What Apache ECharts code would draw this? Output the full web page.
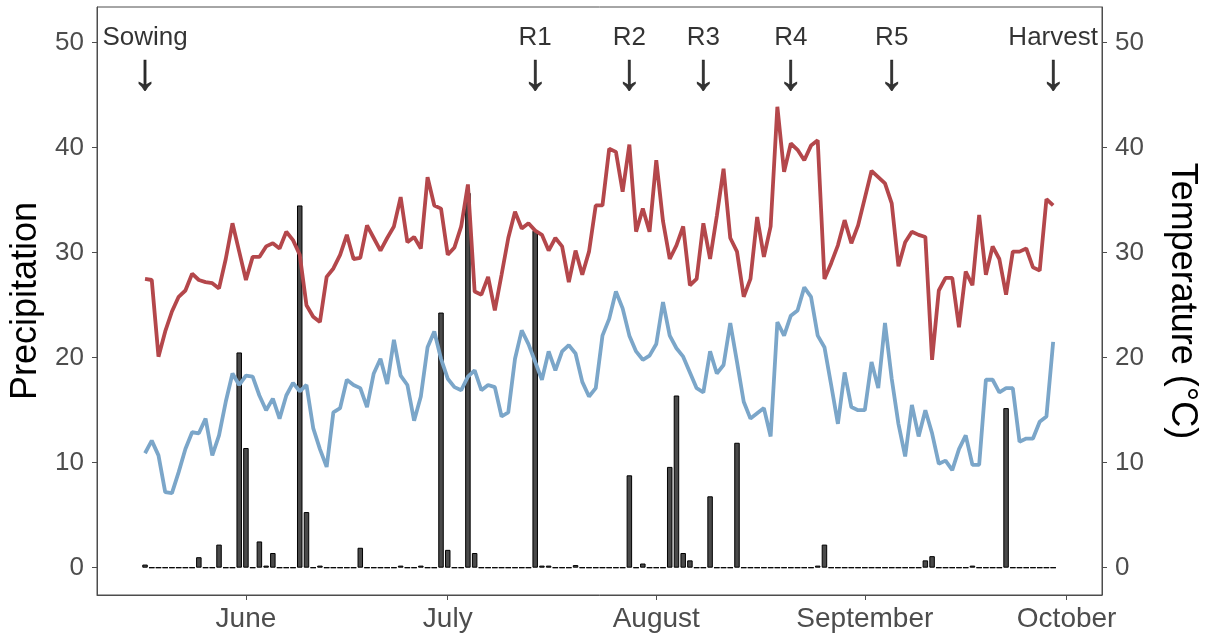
<!DOCTYPE html>
<html><head><meta charset="utf-8">
<script src="https://cdn.jsdelivr.net/npm/echarts@6/dist/echarts.min.js"></script>
<style>html,body{margin:0;padding:0;background:#fff}#c{width:1210px;height:637px}</style>
</head><body><div id="c"></div>
<script>
// ---- data (daily, starting at sowing date) ----
const startYear = 2019, startMonth = 4, startDay = 17; // 17 May
const precipitation = [
  0.3,0,0,0,0,0,0,0,1.0,0,
  0,2.2,0,0,20.5,11.4,0,2.5,0.2,1.4,
  0,0,0,34.5,5.3,0,0.2,0,0,0,
  0,0,1.9,0,0,0,0,0,0.2,0,
  0,0.2,0,0,24.3,1.7,0,0,35.7,1.4,
  0,0,0,0,0,0,0,0,32.1,0.2,
  0.2,0,0,0,0.25,0,0,0,0,0,
  0,0,8.8,0,0.4,0,0,0,9.6,16.4,
  1.4,0.7,0,0,6.8,0,0,0,11.9,0,
  0,0,0,0,0,0,0,0,0,0,
  0.2,2.2,0,0,0,0,0,0,0,0,
  0,0,0,0,0,0,0.7,1.1,0,0,
  0,0,0,0.2,0,0,0,0,15.2,0,
  0,0,0,0,0,0
];
const maxTemp = [
  27.5,27.4,20.1,22.5,24.4,25.8,26.4,28.0,27.4,27.2,
  27.1,26.6,29.4,32.8,30.1,27.4,29.6,29.6,30.6,30.9,
  30.4,32.0,31.2,29.8,25.0,23.9,23.4,27.7,28.5,29.8,
  31.7,29.4,29.5,32.6,31.4,30.2,31.4,32.5,35.3,31.0,
  31.5,30.4,37.2,34.5,34.2,29.8,30.5,32.5,36.5,26.3,
  26.0,27.7,24.5,27.9,31.4,33.9,32.3,32.8,32.1,31.7,
  30.2,31.4,30.6,27.2,30.2,27.9,30.1,34.5,34.5,39.9,
  39.6,35.8,40.3,32.0,34.2,32.0,38.8,33.0,29.4,30.7,
  32.5,26.9,27.5,32.8,29.4,33.5,38.0,31.4,30.1,25.8,
  27.5,33.4,29.6,32.5,43.9,37.7,40.4,39.8,38.8,40.2,
  40.7,27.5,29.0,30.7,33.1,30.9,32.6,35.2,37.8,37.2,
  36.6,34.7,28.7,31.0,32.0,31.7,31.5,19.8,26.4,27.6,
  27.6,22.9,28.2,26.9,33.6,27.9,30.6,29.4,26.0,30.1,
  30.1,30.4,28.6,28.3,35.1,34.5
];
const minTemp = [
  10.9,12.1,10.7,7.2,7.1,9.1,11.3,12.9,12.8,14.2,
  10.7,12.6,15.8,18.5,17.4,18.3,18.2,16.4,15.0,16.1,
  14.2,16.4,17.6,16.8,17.4,13.3,11.3,9.6,14.8,15.2,
  17.9,17.4,17.1,15.3,18.5,19.9,17.5,21.7,18.3,17.4,
  14.0,16.3,21.0,22.5,19.9,18.0,17.2,16.9,18.2,18.8,
  16.9,17.4,17.2,14.4,14.8,19.9,22.6,21.3,19.6,17.9,
  20.6,18.8,20.6,21.2,20.4,17.7,16.3,17.1,22.1,23.7,
  26.3,24.7,22.1,20.6,19.8,20.2,21.3,25.3,22.1,20.9,
  20.1,18.6,17.1,16.7,20.6,18.5,19.3,23.3,19.6,15.8,
  14.2,14.7,15.2,12.5,23.4,22.1,24.0,24.5,26.7,25.8,
  22.1,21.0,17.4,13.7,18.6,15.3,15.0,15.0,19.6,17.1,
  23.3,18.0,13.7,10.6,15.5,12.5,15.0,12.8,9.9,10.2,
  9.3,11.3,12.6,9.8,9.8,17.9,17.9,16.7,17.1,17.1,
  12.0,12.3,12.3,13.9,14.4,21.5
];
const monthTickDates = [[2019,5,1],[2019,6,1],[2019,7,1],[2019,8,1],[2019,9,1]];
const monthLabels = ['June','July','August','September','October'];
const yTicks = [0,10,20,30,40,50];
const stageNames = ['Sowing','R1','R2','R3','R4','R5','Harvest'];
const stageDayIdx = [0,58,72,83,96,111,135];

// ---- helpers: x is "days since sowing" ----
const DAY = 86400000;
const t0 = Date.UTC(startYear, startMonth, startDay);
const monthPos = monthTickDates.map(d => Math.round((Date.UTC(d[0], d[1], d[2]) - t0) / DAY));

const axisColor = '#4d4d4d';
const font = 'Liberation Sans, Arial, sans-serif';
const chart = echarts.init(document.getElementById('c'), null, {renderer: 'canvas'});
const yAxisCommon = {
  type: 'value', min: -2.6, max: 53.4,
  axisLine: {show: true, onZero: false, lineStyle: {color: axisColor, width: 1}},
  axisTick: {show: true, length: 5, customValues: yTicks, lineStyle: {color: axisColor}},
  axisLabel: {customValues: yTicks, fontSize: 26, color: axisColor, fontFamily: font, margin: 13},
  splitLine: {show: false},
  nameLocation: 'middle',
  nameTextStyle: {fontSize: 36, color: '#000', fontFamily: font}
};
chart.setOption({
  animation: false,
  backgroundColor: '#fff',
  grid: {left: 97, right: 108, top: 7, bottom: 42, show: true, borderColor: axisColor, borderWidth: 1, containLabel: false},
  xAxis: {
    type: 'value', min: -7.14, max: 142.26,
    axisLine: {show: true, onZero: false, lineStyle: {color: axisColor}},
    axisTick: {show: true, length: 5, customValues: monthPos, lineStyle: {color: axisColor}},
    axisLabel: {customValues: monthPos, fontSize: 28, color: axisColor, margin: 10, fontFamily: font,
      formatter: v => { const k = monthPos.indexOf(Math.round(v)); return k >= 0 ? monthLabels[k] : ''; }},
    splitLine: {show: false}
  },
  yAxis: [
    Object.assign({}, yAxisCommon, {position: 'left', name: 'Precipitation', nameGap: 53, nameRotate: 90}),
    Object.assign({}, yAxisCommon, {position: 'right', name: 'Temperature (°C)', nameGap: 62, nameRotate: -90})
  ],
  series: [
    {
      type: 'bar', yAxisIndex: 0, barWidth: 5.5,
      data: precipitation.map((v, i) => [i, v]),
      itemStyle: {color: '#4a4a4a', borderColor: '#000', borderWidth: 1},
      z: 2
    },
    {
      type: 'line', yAxisIndex: 1, showSymbol: false, symbol: 'none',
      data: maxTemp.map((v, i) => [i, v]),
      lineStyle: {color: '#b4474b', width: 3.8}, z: 3
    },
    {
      type: 'line', yAxisIndex: 1, showSymbol: false, symbol: 'none',
      data: minTemp.map((v, i) => [i, v]),
      lineStyle: {color: '#7ba6c9', width: 3.8}, z: 3
    },
    {
      type: 'scatter', yAxisIndex: 0, symbolSize: 1, itemStyle: {color: 'rgba(0,0,0,0)'},
      data: stageNames.map((n, k) => ({name: n, value: [stageDayIdx[k], 50.5]})),
      label: {show: true, position: 'inside', formatter: p => p.name, fontSize: 26, color: '#000', fontFamily: font},
      z: 5
    },
    {
      type: 'scatter', yAxisIndex: 0, symbolSize: 1, itemStyle: {color: 'rgba(0,0,0,0)'},
      data: stageNames.map((n, k) => ({name: n, value: [stageDayIdx[k], 47.0]})),
      label: {show: true, position: 'inside', formatter: '↓', fontSize: 52, color: '#000', fontFamily: font,
        textBorderColor: '#000', textBorderWidth: 0.6},
      z: 5
    }
  ]
});
</script>
</body></html>
